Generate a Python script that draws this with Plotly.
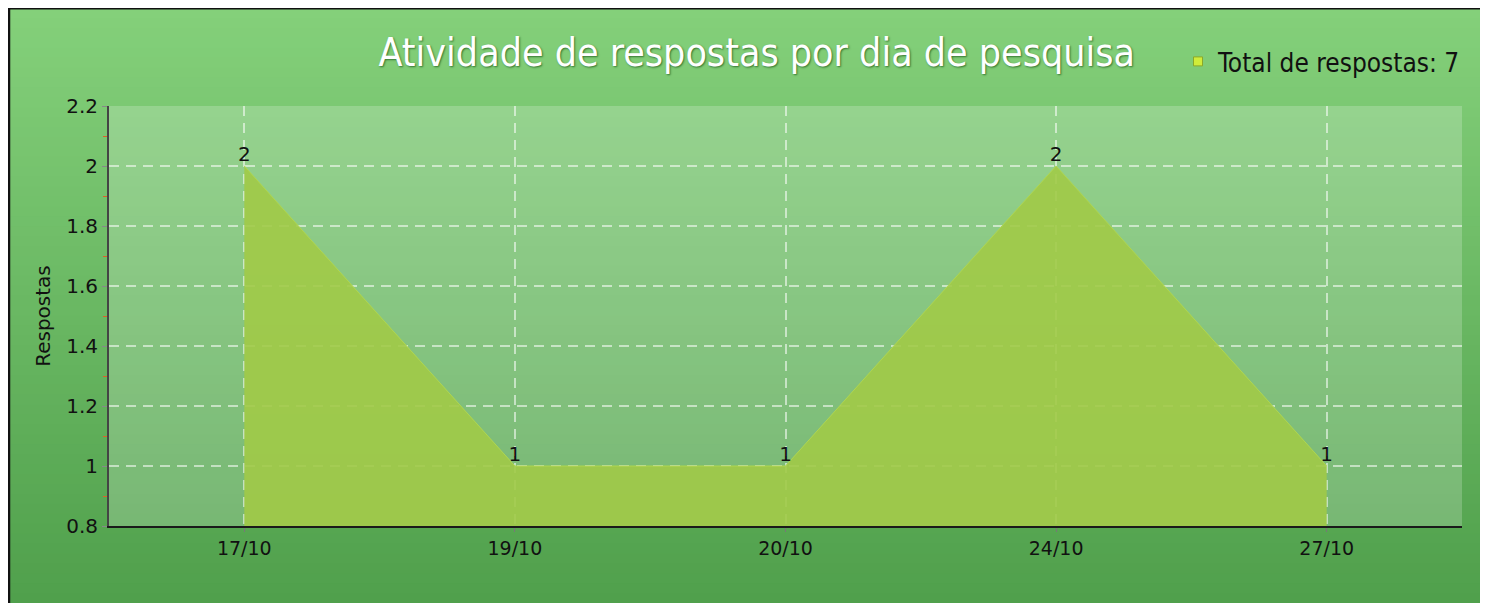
import plotly.graph_objects as go

# ---- data ----
dias = ["17/10", "19/10", "20/10", "24/10", "27/10"]
respostas = [2, 1, 1, 2, 1]
titulo = "Atividade de respostas por dia de pesquisa"
legenda = "Total de respostas: 7"
y_titulo = "Respostas"

# page has an 8px body margin: work in page pixels, convert to figure pixels
OFF = 8
W, H = 1488 - OFF, 603 - OFF
PL, PR, PT, PB = 109, 1462, 106, 526          # plot area in page pixels
ML, MR, MT, MB = PL - OFF, (W + OFF) - PR, PT - OFF, (H + OFF) - PB
PW, PH = PR - PL, PB - PT


def px_x(p):
    return (p - PL) / PW


def px_y(p):
    return (PB - p) / PH


fig = go.Figure()

fig.add_trace(go.Scatter(
    x=dias, y=respostas,
    mode="lines+text",
    text=[str(v) for v in respostas],
    textposition="top center",
    textfont=dict(family="DejaVu Sans", size=20, color="#111111"),
    fill="tozeroy",
    fillcolor="rgba(161,202,71,0.9)",
    line=dict(color="rgba(175,214,80,1)", width=1),
    showlegend=False,
    hoverinfo="x+y",
))

# legend entry
fig.add_trace(go.Scatter(
    x=[None], y=[None], mode="markers",
    marker=dict(symbol="square", size=9, color="#d0ec3a",
                line=dict(color="#8aa82a", width=1)),
    name=legenda, showlegend=True,
))

shapes = []
# background gradient (top -> bottom)
top = (132, 208, 122)
bot = (80, 160, 76)
n = 60
y0p, y1p = OFF, H + OFF
for i in range(n):
    t = i / (n - 1)
    c = tuple(int(round(top[k] + (bot[k] - top[k]) * t)) for k in range(3))
    a = y0p + (y1p - y0p) * i / n
    b = y0p + (y1p - y0p) * (i + 1) / n
    shapes.append(dict(type="rect", xref="paper", yref="paper",
                       x0=px_x(9), x1=px_x(W + OFF + 4), y0=px_y(b + 3), y1=px_y(a),
                       fillcolor="rgb(%d,%d,%d)" % c, line=dict(width=0),
                       layer="below"))
# borders (top and left)
shapes.append(dict(type="line", xref="paper", yref="paper",
                   x0=px_x(OFF), x1=px_x(W + OFF - 2), y0=px_y(OFF + 0.5), y1=px_y(OFF + 0.5),
                   line=dict(color="#111111", width=2), layer="below"))
shapes.append(dict(type="line", xref="paper", yref="paper",
                   x0=px_x(OFF + 1), x1=px_x(OFF + 1), y0=px_y(OFF), y1=px_y(H + OFF + 4),
                   line=dict(color="#111111", width=2.5), layer="below"))
# plot-area light overlay
shapes.append(dict(type="rect", xref="x domain", yref="y domain",
                   x0=0, x1=1, y0=0, y1=1,
                   fillcolor="rgba(255,255,255,0.2)", line=dict(width=0),
                   layer="below"))

COND = "DejaVu Sans Condensed, Roboto Condensed, Arial Narrow, sans-serif"

fig.update_layout(
    width=W, height=H,
    margin=dict(l=ML, r=MR, t=MT, b=MB),
    paper_bgcolor="white",
    plot_bgcolor="rgba(0,0,0,0)",
    shapes=shapes,
    title=dict(
        text=titulo,
        x=px_x(1135), xref="paper", xanchor="right",
        y=1 - (52 - OFF) / H, yanchor="middle",
        font=dict(family=COND, size=39, color="white",
                  shadow="1px 1px 2px rgba(0,60,0,0.6)"),
    ),
    legend=dict(
        x=px_x(1466), xanchor="right", y=px_y(38), yanchor="top",
        bgcolor="rgba(0,0,0,0)",
        font=dict(family=COND, size=26, color="#111111"),
        itemwidth=30,
    ),
    font=dict(family="DejaVu Sans", color="#111111"),
    xaxis=dict(
        type="category",
        range=[-0.5, len(dias) - 0.5],
        showgrid=True, gridcolor="rgba(255,255,255,0.55)", gridwidth=1.5,
        griddash="10px,7px",
        showline=True, linecolor="#1a1a1a", linewidth=2,
        ticks="outside", ticklen=4, tickcolor="#777777",
        tickfont=dict(family="DejaVu Sans", size=19, color="#111111"),
        zeroline=False, fixedrange=True,
    ),
    yaxis=dict(
        range=[0.8, 2.2], dtick=0.2, tick0=0.8,
        showgrid=True, gridcolor="rgba(255,255,255,0.55)", gridwidth=1.5,
        griddash="10px,7px",
        showline=True, linecolor="#444444", linewidth=2,
        ticks="outside", ticklen=5, tickcolor="#888888",
        tickfont=dict(family="DejaVu Sans", size=20, color="#111111"),
        minor=dict(dtick=0.1, tick0=0.8, ticks="outside", ticklen=4,
                   tickcolor="#e0602a", showgrid=False),
        zeroline=False, fixedrange=True,
        title=dict(text=y_titulo, standoff=10,
                   font=dict(family="DejaVu Sans", size=20, color="#111111")),
    ),
)

fig.write_html("out.html")
